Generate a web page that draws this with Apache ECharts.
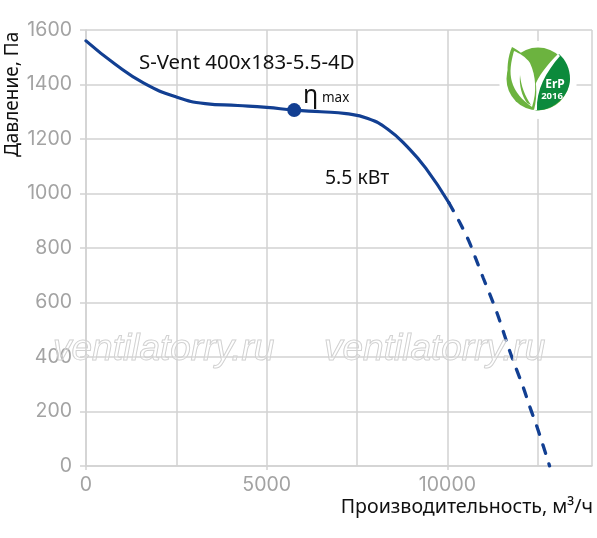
<!DOCTYPE html>
<html><head><meta charset="utf-8">
<style>html,body{margin:0;padding:0;background:#fff}#c{width:597px;height:538px}</style>
<script src="https://cdn.jsdelivr.net/npm/echarts@6/dist/echarts.min.js"></script></head>
<body><div id="c"></div>
<script>
const solidCurve = [[0,1560],[800,1475],[1600,1405],[2500,1354],[3300,1330],[4200,1323],[5000,1316],[5760,1306],[6500,1300],[7200,1293],[7800,1275],[8350,1236],[8900,1170],[9400,1093],[10040,966]];
const dashedCurve = [[10040,966],[10331,896],[10588,827],[10793,758],[10994,689],[11207,619],[11417,545],[11713,426],[11898,359],[12108,285],[12285,215],[12478,144],[12652,73],[12826,0]];
const etaPoint = [[5760,1306]];
const xLabels = [0,5000,10000];
const yName = 'Давление, Па';
const xName = 'Производительность, м³/ч';
const modelName = 'S-Vent 400x183-5.5-4D';
const powerName = '5.5 кВт';
const watermark = 'ventilatorry.ru';

const gridColor = '#d2d2d2', tickColor = '#a3a3a3', blue = '#123f92';
const labelFont = '"Noto Sans"', tickFont = 'Inter';
const logoPaths = {
  logoDark:'M559 54 C 545 68 534 84 535 110 C 552 112 570 96 570 79 C 570 69 566 60 559 54 Z',
  logoSwoosh:'M558 54 C 548 64 538 76 534 88 C 531 95 531 102 533 110 L 537 110 C 536 90 546 72 560 56 Z',
  logoLeafOuter:'M512 47 C 508 56 506 70 509 80 C 512 95 522 105 534 110 C 538 96 537 76 530 62 C 526 56 518 50 512 47 Z',
  logoLeafInner:'M514 51 C 511 62 509 72 512 82 C 515 92 522 100 532 107 C 537 92 536 76 530 63 C 526 57 519 53 514 51 Z',
  logoVein:'M520 75 C 521 86 525 96 531 105 L 527 103 C 522 96 519 86 520 75 Z'
};
Object.keys(logoPaths).forEach(k => echarts.graphic.registerShape(k, echarts.graphic.extendPath(logoPaths[k])));
const chart = echarts.init(document.getElementById('c'), null, {renderer:'canvas'});
const wm = x => ({type:'text', x, y:331, z:100, silent:true, style:{text:watermark, font:'italic 37px "Liberation Sans"', fill:'rgba(255,255,255,0.2)', stroke:'#cdcdcd', lineWidth:1}});
const txt = (x,y,text,size,extra) => ({type:'text', x, y, z:50, style:Object.assign({text, font:size+'px '+labelFont, fill:'#111', verticalAlign:'middle'},extra||{})});
chart.setOption({
  animation:false, backgroundColor:'#fff',
  grid:{left:86,right:5,top:30,bottom:72,outerBoundsMode:'none',containLabel:false},
  xAxis:[{type:'value',min:0,max:14000,interval:2500,
    name:xName,nameLocation:'end',nameGap:1,
    nameTextStyle:{fontFamily:labelFont,fontSize:19.6,color:'#111',align:'right',verticalAlign:'top',padding:[31,0,0,0]},
    axisLine:{show:true,lineStyle:{color:gridColor,width:1.5}},
    axisTick:{show:false},
    axisLabel:{margin:9,fontFamily:tickFont,fontSize:19.5,color:tickColor,showMaxLabel:false,formatter:v=>xLabels.includes(v)?String(v):''},
    splitLine:{show:true,lineStyle:{color:gridColor,width:1.5}}},
   {type:'value',min:0,max:14000,position:'bottom',
    axisLine:{show:false},
    axisTick:{show:true,customValues:xLabels,length:4,lineStyle:{color:gridColor,width:1.5}},
    axisLabel:{show:false},splitLine:{show:false}}],
  yAxis:{type:'value',min:0,max:1600,interval:200,
    axisLine:{show:true,lineStyle:{color:gridColor,width:1.5}},
    axisTick:{show:true,length:6,lineStyle:{color:gridColor,width:1.5}},
    axisLabel:{margin:14,fontFamily:tickFont,fontSize:19.5,color:tickColor,padding:[2,0,0,0],formatter:v=>String(v)},
    splitLine:{show:true,lineStyle:{color:gridColor,width:1.5}}},
  series:[
    {type:'line',data:solidCurve,smooth:0.5,showSymbol:false,z:5,lineStyle:{color:blue,width:3.2,cap:'round'}},
    {type:'line',data:dashedCurve,smooth:0.3,showSymbol:false,z:5,lineStyle:{color:blue,width:3.3,type:[9,11],cap:'round'}},
    {type:'scatter',data:etaPoint,symbolSize:14,z:6,itemStyle:{color:blue,opacity:1}}
  ],
  graphic:[
    wm(53), wm(324),
    {type:'text',x:13,y:157,rotation:Math.PI/2,z:50,style:{text:yName,font:'19px '+labelFont,fill:'#111',align:'left',verticalAlign:'middle'}},
    txt(139,63,modelName,20.4),
    txt(303,96,'η',25),
    txt(322,98,'max',13.5),
    txt(325,178,powerName,19.4),
    {type:'circle',z:40,shape:{cx:538,cy:80,r:39},style:{fill:'#fff'}},
    {type:'circle',z:41,shape:{cx:538,cy:79,r:31.5},style:{fill:'#6cb33f'}},
    {type:'logoDark',z:42,style:{fill:'#0c8a3c'}},
    {type:'logoSwoosh',z:43,style:{fill:'#fff'}},
    {type:'logoLeafOuter',z:44,style:{fill:'#6cb33f'}},
    {type:'logoLeafInner',z:45,style:{fill:'#fff'}},
    {type:'logoVein',z:46,style:{fill:'#6cb33f'}},
    {type:'text',z:47,x:555,y:85,style:{text:'ErP',font:'bold 12px "Noto Sans"',fill:'#fff',align:'center',verticalAlign:'middle'}},
    {type:'text',z:47,x:552,y:96,style:{text:'2016',font:'bold 9.5px "Noto Sans"',fill:'#fff',align:'center',verticalAlign:'middle'}}
  ]
});
</script></body></html>
